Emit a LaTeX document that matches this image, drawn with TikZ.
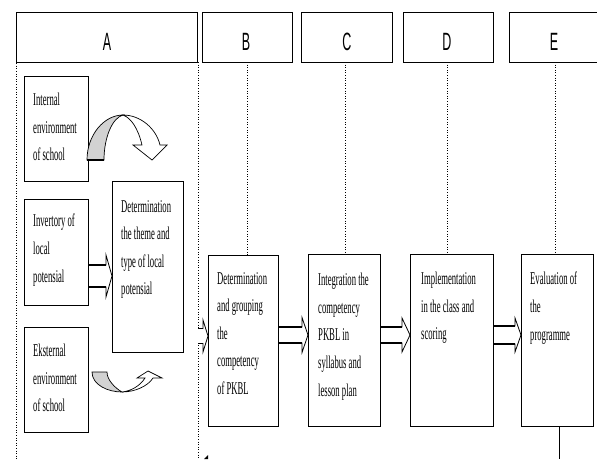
\documentclass[tikz,border=0pt]{standalone}
\usepackage{fontspec}
\newfontfamily\bodyfont[FakeStretch=0.48]{Liberation Serif}
\newfontfamily\headfont[FakeStretch=0.5]{Liberation Sans}
\usetikzlibrary{calc}
\tikzset{
  boxs/.style={draw, line width=1.1pt, fill=white, inner sep=0pt, anchor=north west},
  txt/.style={anchor=north west, inner sep=0pt, align=left, font=\bodyfont\fontsize{18}{27.6}\selectfont},
  headtxt/.style={inner sep=0pt, font=\headfont\fontsize{25}{25}\selectfont},
  dotline/.style={line width=0.6pt, dash pattern=on 1pt off 1.6pt},
  barrow/.style={draw, line width=0.8pt, fill=white, line join=miter},
  shaftline/.style={line width=1.6pt},
  backband/.style={draw, line width=0.7pt, fill=gray!35},
  frontband/.style={draw, line width=0.7pt, fill=white, line join=miter},
}
% #1 start point, #2 end point (node anchor), #3 y centre, #4 shaft half, #5 head half, #6 head length
\newcommand\blockarrow[6]{%
  \draw[barrow] (#1 |- 0,#3-#4) -- ($(#2 |- 0,#3-#4)+(-#6,0)$) -- ($(#2 |- 0,#3-#5)+(-#6,0)$)
    -- (#2 |- 0,#3) -- ($(#2 |- 0,#3+#5)+(-#6,0)$) -- ($(#2 |- 0,#3+#4)+(-#6,0)$)
    -- (#1 |- 0,#3+#4);
  \draw[shaftline] (#1 |- 0,#3-#4) -- ($(#2 |- 0,#3-#4)+(-#6,0)$);
  \draw[shaftline] (#1 |- 0,#3+#4) -- ($(#2 |- 0,#3+#4)+(-#6,0)$);}
\begin{document}
\begin{tikzpicture}[x=1pt,y=-1pt]
\useasboundingbox (0,0) rectangle (597,459);
\fill[white] (0,0) rectangle (597,459);
% headers
\node[boxs, minimum width=181, minimum height=50] (hA) at (16,12) {};
\node[boxs, minimum width=90, minimum height=50] (hB) at (202,12) {};
\node[boxs, minimum width=91, minimum height=50] (hC) at (301,12) {};
\node[boxs, minimum width=90, minimum height=50] (hD) at (403,12) {};
\node[boxs, minimum width=87.5, minimum height=50] (hE) at (509,12) {};
\node[headtxt] (hA-t) at (107,42) {A};
\node[headtxt] (hB-t) at (246,42) {B};
\node[headtxt] (hC-t) at (347,42) {C};
\node[headtxt] (hD-t) at (447,42) {D};
\node[headtxt] (hE-t) at (554,42) {E};
% dotted lines
\coordinate (lowL) at (16,459);
\coordinate (lowM) at (198,459);
\coordinate (sepTop) at (198,62);
\draw[dotline] (hA.south west) -- (lowL);
\draw[dotline] (sepTop) -- (lowM);
% boxes column A
\node[boxs, minimum width=64, minimum height=105] (int) at (24,76) {};
\node[boxs, minimum width=64, minimum height=106] (inv) at (24,199) {};
\node[boxs, minimum width=64, minimum height=105] (eks) at (24,327) {};
\node[boxs, minimum width=71, minimum height=171] (det) at (112,181) {};
% process boxes
\node[boxs, minimum width=70, minimum height=171] (b) at (208,255) {};
\node[boxs, minimum width=72, minimum height=172] (c) at (308,254) {};
\node[boxs, minimum width=83, minimum height=172] (d) at (410,254) {};
\node[boxs, minimum width=72, minimum height=172] (e) at (521,254) {};
% vertical dotted connectors
\coordinate (vB) at (247,62);
\coordinate (vC) at (345,62);
\coordinate (vD) at (447,62);
\coordinate (vE) at (555,62);
\draw[dotline] (vB) -- (vB |- b.north);
\draw[dotline] (vC) -- (vC |- c.north);
\draw[dotline] (vD) -- (vD |- d.north);
\draw[dotline] (vE) -- (vE |- e.north);
% texts
\node[txt] (int-t) at (33,93) {Internal\\environment\\of school};
\node[txt] (inv-t) at (33,214) {Invertory of\\local\\potensial};
\node[txt] (eks-t) at (33,344) {Eksternal\\environment\\of school};
\node[txt] (det-t) at (121,200) {Determination\\the theme and\\type of local\\potensial};
\node[txt] (b-t) at (217,272) {Determination\\and grouping\\the\\competency\\of PKBL};
\node[txt] (c-t) at (318,273) {Integration the\\competency\\PKBL in\\syllabus and\\lesson plan};
\node[txt] (d-t) at (421,272) {Implementation\\in the class and\\scoring};
\node[txt] (e-t) at (530,272) {Evaluation of\\the\\programme};
% block arrows
\coordinate (sepA) at (198,336);
\blockarrow{inv.east}{det.west}{276}{11}{21}{6}
\blockarrow{sepA}{b.west}{336}{7.5}{16}{5}
\blockarrow{b.east}{c.west}{335}{8}{17.5}{6}
\blockarrow{c.east}{d.west}{335}{8}{17}{8}
\blockarrow{d.east}{e.west}{335}{9}{17}{6}
% curved arrow (top)
\draw[backband] (87,160) .. controls (87,135) and (104,115) .. (123,115)
   .. controls (112,118) and (104,138) .. (104,160) -- cycle;
\draw[line width=1.6pt] (87,160) -- (104,160);
\draw[frontband] (123,115) .. controls (140,115) and (156,128) .. (160,145)
   -- (167,145) -- (152,160) -- (133,145) -- (142,145)
   .. controls (138,128) and (131,118) .. (123,115) -- cycle;
% curved arrow (bottom)
\draw[backband] (92,372) .. controls (92,385) and (108,392) .. (122,392)
   .. controls (115,388) and (107,380) .. (107,372) -- cycle;
\draw[frontband] (122,392) .. controls (135,392) and (148,386) .. (153,378)
   -- (162,378) -- (148,371) -- (137,378) -- (145,378)
   .. controls (140,386) and (131,391) .. (122,392) -- cycle;
% line from E downward
\coordinate (eLow) at (559,459);
\draw[line width=0.8pt] (e.south -| eLow) -- (eLow);
% small arrow tip at bottom
\coordinate (tipB) at (204,459);
\fill (tipB) -- ++(4,-4) -- ++(0,4) -- cycle;
\end{tikzpicture}
\end{document}
